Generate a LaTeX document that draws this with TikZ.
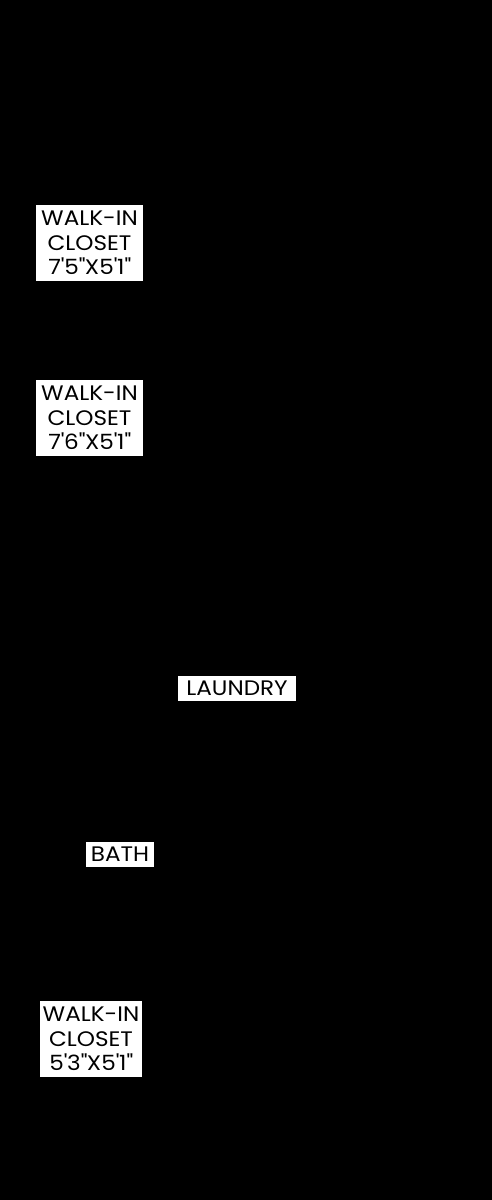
\documentclass[tikz,border=0pt]{standalone}
\usepackage{fontspec}
\setmainfont{Poppins}[FakeStretch=1.1]
\begin{document}
\begin{tikzpicture}[x=1pt,y=-1pt,
  lbl/.style={fill=white,draw=none,inner sep=0pt,align=center,text=black,
    font=\fontsize{21}{24.5}\selectfont}]
\fill[black] (0,0) rectangle (492,1200);
\useasboundingbox (0,0) rectangle (492,1200);
\node[lbl,minimum width=107,minimum height=76] (c1) at (89.5,243) {WALK-IN\\CLOSET\\7\textquotesingle 5\textquotedbl X5\textquotesingle 1\textquotedbl};
\node[lbl,minimum width=107,minimum height=76] (c2) at (89.5,418) {WALK-IN\\CLOSET\\7\textquotesingle 6\textquotedbl X5\textquotesingle 1\textquotedbl};
\node[lbl,minimum width=118,minimum height=25] (laundry) at (237,688.5) {LAUNDRY};
\node[lbl,minimum width=68,minimum height=25] (bath) at (120,854.5) {BATH};
\node[lbl,minimum width=102,minimum height=76] (c3) at (91,1039) {WALK-IN\\CLOSET\\5\textquotesingle 3\textquotedbl X5\textquotesingle 1\textquotedbl};
\end{tikzpicture}
\end{document}
